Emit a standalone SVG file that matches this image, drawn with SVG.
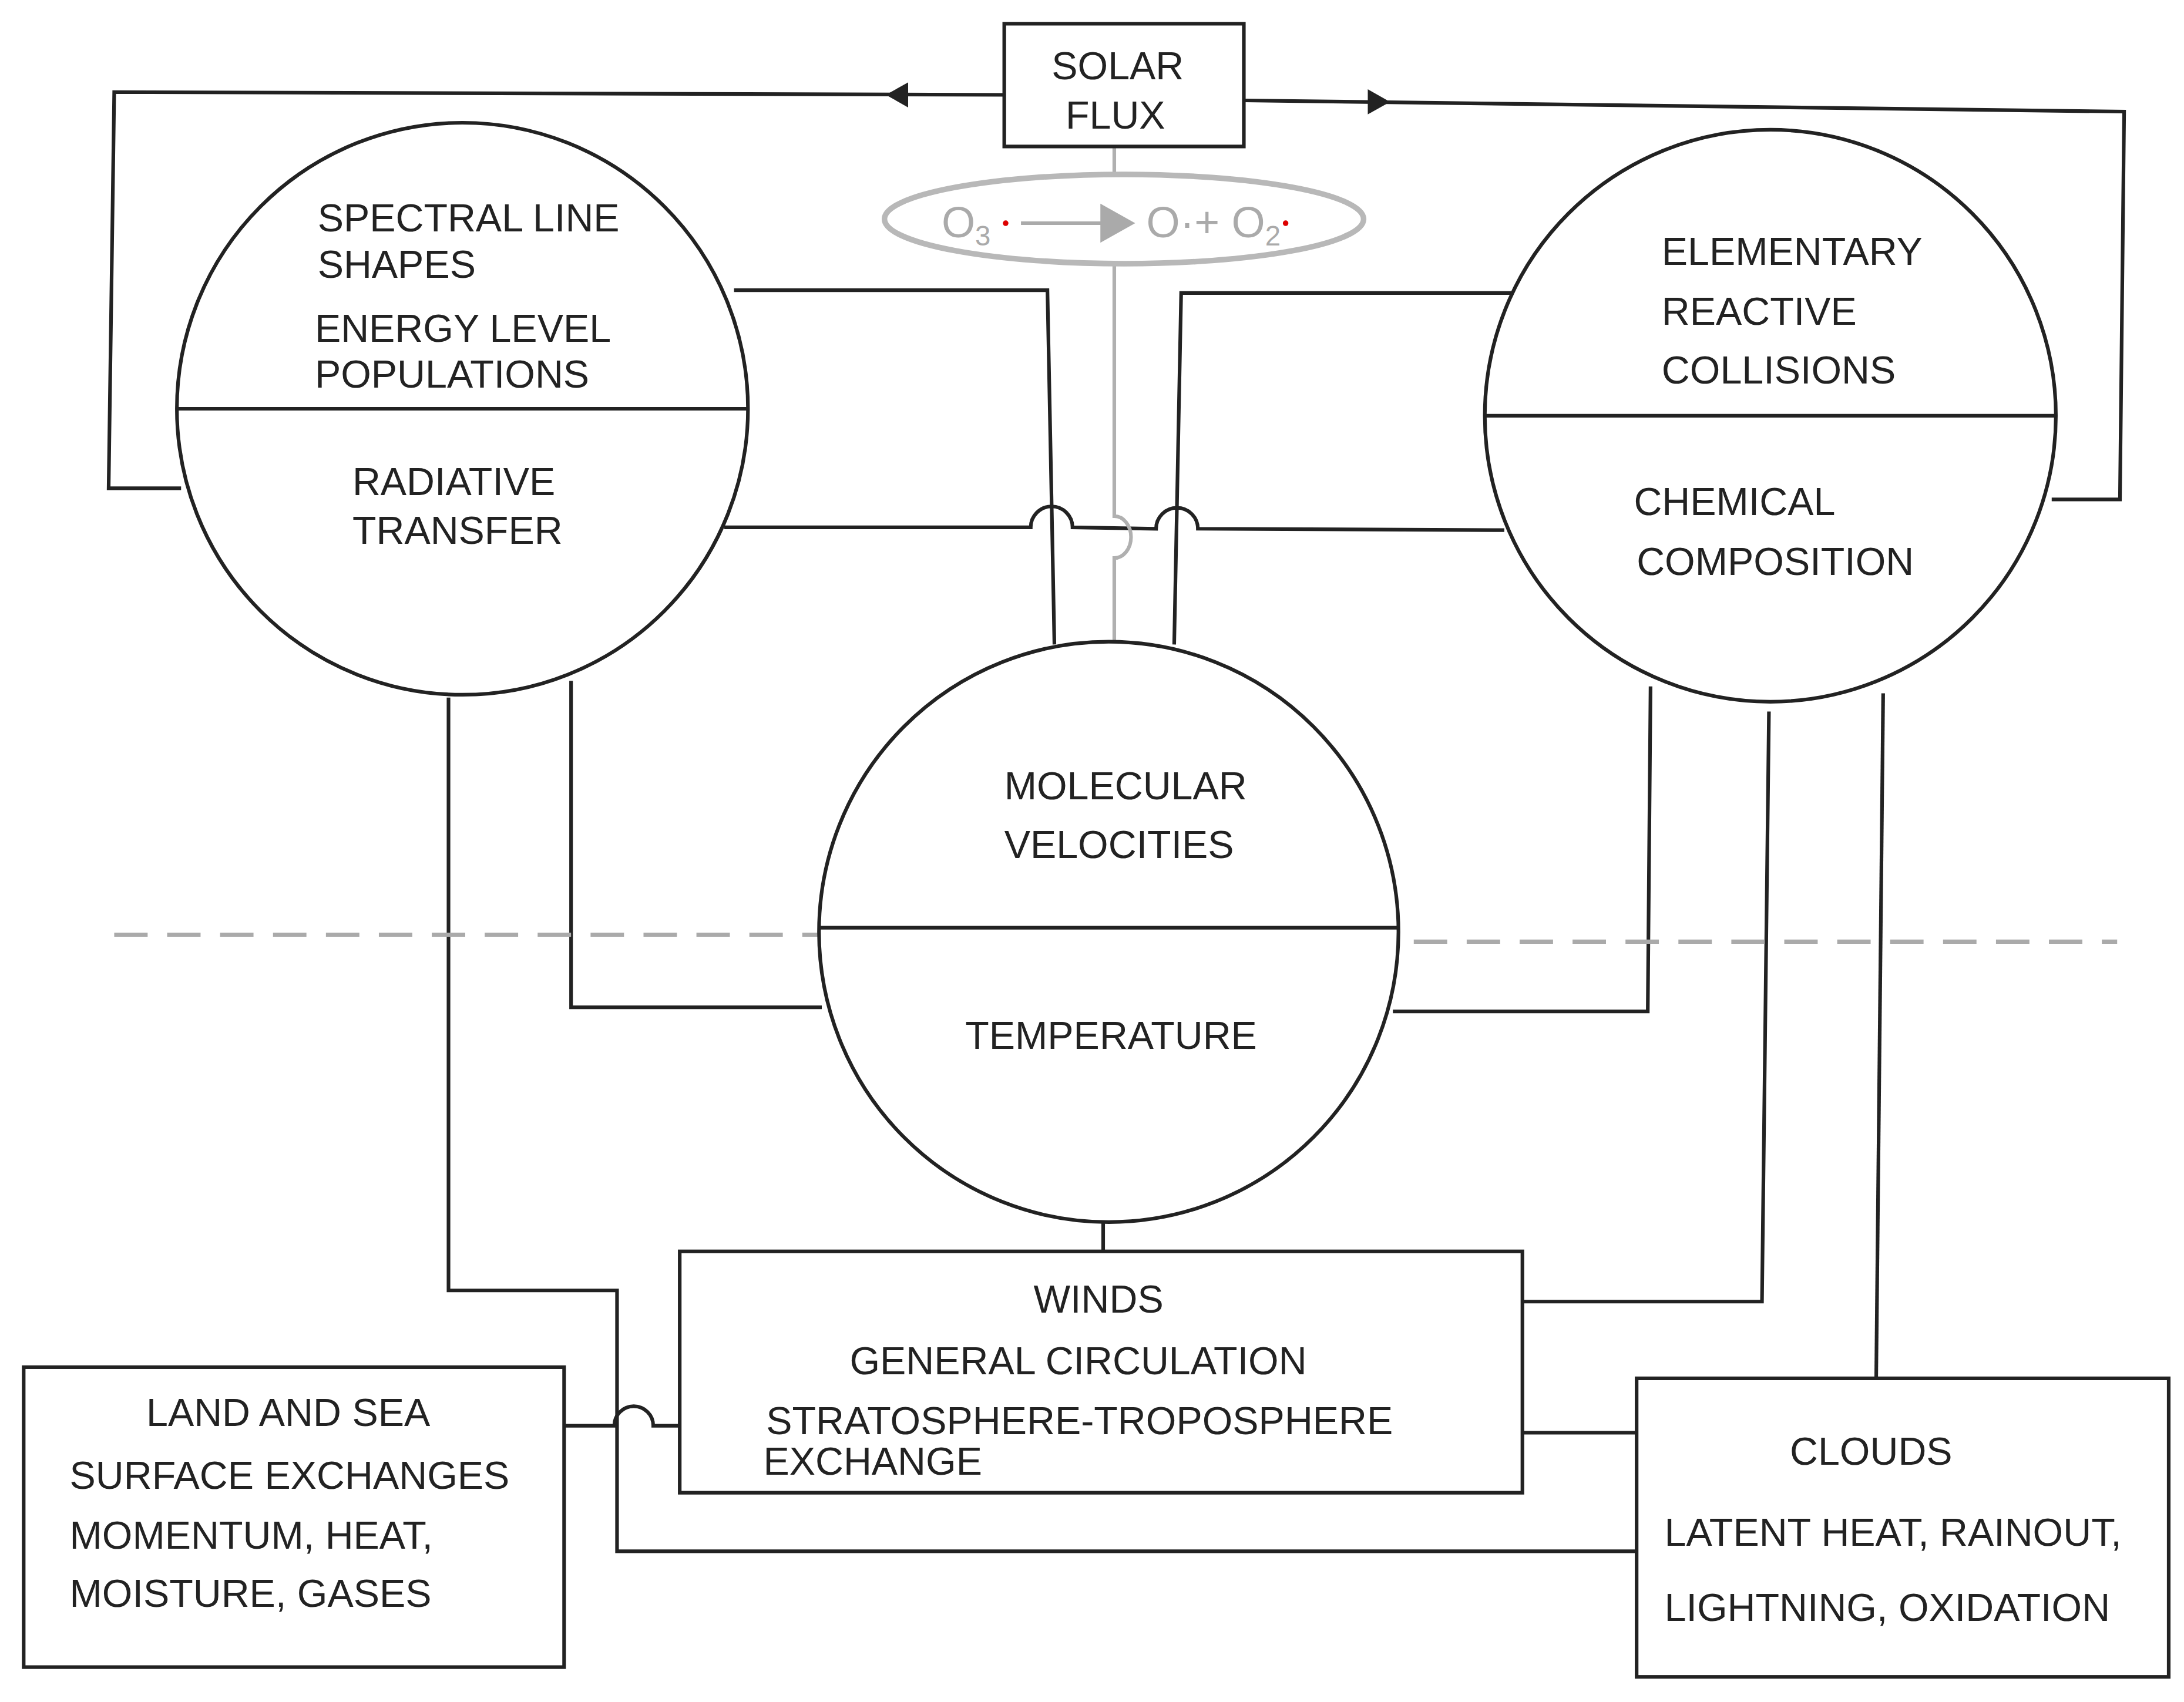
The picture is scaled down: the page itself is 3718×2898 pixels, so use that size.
<svg xmlns="http://www.w3.org/2000/svg" width="3718" height="2898" viewBox="0 0 3718 2898">
<style>
.s{fill:none;stroke:#222;stroke-width:2.6}
.n{fill:#fff;stroke:#222;stroke-width:2.6}
.g{fill:none;stroke:#b0b0b0;stroke-width:2.6}
text{font-family:"Liberation Sans",Arial,sans-serif;font-size:28px;fill:#222}
.oz{fill:#aaa;font-size:31px}
</style>
<rect width="3718" height="2898" fill="#fff"/>
<g transform="scale(2.3712 2.3754)">
<g id="connectors">
<path class="s" d="M721,68 L82,66 L78,350 L130,350"/>
<path d="M636,68 l16,-9 v18z" fill="#222"/>
<path class="s" d="M893,72 L1525,80 L1522,358 L1473,358"/>
<path d="M998,73 l-16,-9 v18z" fill="#222"/>
<path class="s" d="M527,208 L752,208 L757,462"/>
<path class="s" d="M1088,210 L848,210 L843,462"/>
<path class="s" d="M520,378 L740,378 A15,15 0 0 1 770,378 L830,379 A15,15 0 0 1 860,379 L1080,380"/>
<path class="s" d="M410,488 L410,722 L590,722"/>
<path class="s" d="M322,500 L322,925 L443,925 L443,1112 L1175,1112"/>
<path class="s" d="M1185,492 L1183,725 L1000,725"/>
<path class="s" d="M1270,510 L1265,933 L1093,933"/>
<path class="s" d="M1352,497 L1347,988"/>
<path class="s" d="M792,876 L792,897"/>
<path class="s" d="M405,1022 L441,1022 A14,14 0 0 1 469,1022 L488,1022"/>
<path class="s" d="M1093,1027 L1175,1027"/>
<path class="g" d="M800,105 L800,125 M800,190 L800,370 A12,15 0 0 1 800,400 L800,460"/>
<path d="M82,670 H590 M1015,675 H1520" fill="none" stroke="#aaa" stroke-width="3" stroke-dasharray="24,14"/>
</g>
<g id="solar"><rect class="n" x="721" y="17" width="172" height="88"/>
<text x="755" y="57">SOLAR</text><text x="765" y="92">FLUX</text></g>
<g id="ozone"><ellipse cx="807" cy="157" rx="172" ry="32" fill="#fff" stroke="#b8b8b8" stroke-width="4"/>
<text class="oz" x="676" y="170">O<tspan font-size="20" dy="6">3</tspan></text>
<circle cx="722" cy="160" r="2" fill="#d00"/>
<path d="M733,160 H795" stroke="#aaa" stroke-width="2.5"/><path d="M790,146 L815,160 L790,174z" fill="#aaa"/>
<text class="oz" x="823" y="170">O·+  O<tspan font-size="20" dy="6">2</tspan></text>
<circle cx="923" cy="160" r="2" fill="#d00"/></g>
<g id="left"><circle class="n" cx="332" cy="293" r="205"/><path class="s" d="M127,293 H537"/>
<text x="228" y="166">SPECTRAL  LINE</text><text x="228" y="199">SHAPES</text>
<text x="226" y="245">ENERGY LEVEL</text><text x="226" y="278">POPULATIONS</text>
<text x="253" y="355">RADIATIVE</text><text x="253" y="390">TRANSFER</text></g>
<g id="right"><circle class="n" cx="1271" cy="298" r="205"/><path class="s" d="M1066,298 H1476"/>
<text x="1193" y="190">ELEMENTARY</text><text x="1193" y="233">REACTIVE</text><text x="1193" y="275">COLLISIONS</text>
<text x="1173" y="369">CHEMICAL</text><text x="1175" y="412">COMPOSITION</text></g>
<g id="center"><circle class="n" cx="796" cy="668" r="208"/><path class="s" d="M588,665 H1004"/>
<text x="721" y="573">MOLECULAR</text><text x="721" y="615">VELOCITIES</text><text x="693" y="752">TEMPERATURE</text></g>
<g id="winds"><rect class="n" x="488" y="897" width="605" height="173"/>
<text x="742" y="941">WINDS</text><text x="610" y="985">GENERAL CIRCULATION</text>
<text x="550" y="1028">STRATOSPHERE-TROPOSPHERE</text><text x="548" y="1057">EXCHANGE</text></g>
<g id="land"><rect class="n" x="17" y="980" width="388" height="215"/>
<text x="105" y="1022">LAND AND SEA</text><text x="50" y="1067">SURFACE EXCHANGES</text>
<text x="50" y="1110">MOMENTUM, HEAT,</text><text x="50" y="1152">MOISTURE, GASES</text></g>
<g id="clouds"><rect class="n" x="1175" y="988" width="382" height="214"/>
<text x="1285" y="1050">CLOUDS</text><text x="1195" y="1108">LATENT HEAT, RAINOUT,</text>
<text x="1195" y="1162">LIGHTNING, OXIDATION</text></g>
</g>
</svg>
